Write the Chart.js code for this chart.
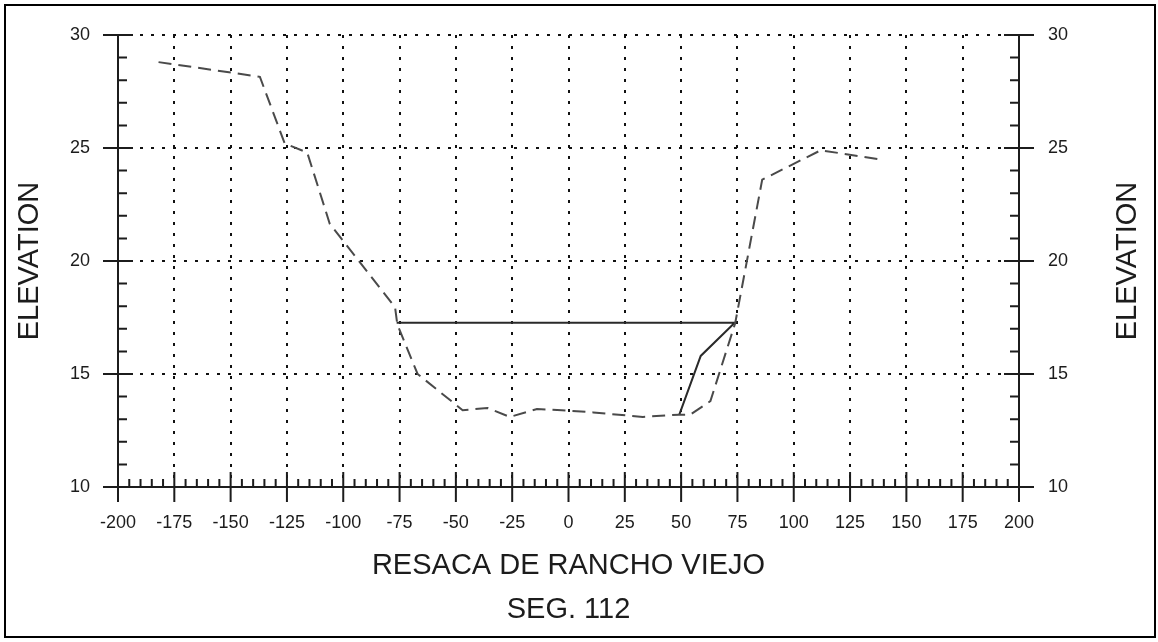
<!DOCTYPE html>
<html>
<head>
<meta charset="utf-8">
<title>Resaca de Rancho Viejo - Seg. 112</title>
<script src="https://cdn.jsdelivr.net/npm/chart.js@4"></script>
<style>
	html, body { margin: 0; padding: 0; background: #fff; }
	#wrap { position: relative; width: 1158px; height: 642px; }
</style>
</head>
<body>
<div id="wrap"><canvas id="chart" width="1158" height="642"></canvas></div>
<script>
	// tick labels
	const xTicks = [-200, -175, -150, -125, -100, -75, -50, -25, 0, 25, 50, 75, 100, 125, 150, 175, 200];
	const yTicks = [10, 15, 20, 25, 30];

	// ground profile (dashed)
	const groundX = [-182, -137, -126, -116, -106, -77, -76, -67, -47, -36, -26, -14, -3, 11, 33, 49, 54, 63, 74, 86, 112, 138];
	const groundY = [28.8, 28.15, 25.2, 24.8, 21.65, 17.95, 17.2, 15.0, 13.4, 13.5, 13.1, 13.45, 13.4, 13.3, 13.1, 13.2, 13.2, 13.8, 17.25, 23.6, 24.9, 24.5];

	// water surface (solid)
	const waterX = [-76.3, 73.8, 58.7, 49.2];
	const waterY = [17.27, 17.27, 15.8, 13.2];

	const titleLines = ['RESACA DE RANCHO VIEJO', 'SEG. 112'];
	const axisTitle = 'ELEVATION';

	const fontFamily = '"Liberation Sans", Arial, Helvetica, sans-serif';
	const ink = '#1c1c1c';

	function toPoints(xs, ys) {
		return xs.map((x, i) => ({ x: x, y: ys[i] }));
	}

	// solid axes, crossing major ticks, minor ticks and the right axis title
	const framePlugin = {
		id: 'frame',
		afterDraw(chart) {
			const ctx = chart.ctx;
			const x = chart.scales.x;
			const y = chart.scales.y;
			const L = x.getPixelForValue(-200);
			const R = x.getPixelForValue(200);
			const T = y.getPixelForValue(30);
			const B = y.getPixelForValue(10);

			ctx.save();
			ctx.strokeStyle = ink;
			ctx.lineWidth = 2;
			ctx.lineCap = 'butt';
			ctx.beginPath();
			// left + right axis
			ctx.moveTo(L, T); ctx.lineTo(L, B);
			ctx.moveTo(R, T); ctx.lineTo(R, B);
			// bottom axis
			ctx.moveTo(L - 15, B); ctx.lineTo(R + 15, B);

			// major ticks
			xTicks.forEach(v => {
				const px = x.getPixelForValue(v);
				ctx.moveTo(px, B - 15); ctx.lineTo(px, B + 15);
			});
			yTicks.forEach(v => {
				const py = y.getPixelForValue(v);
				ctx.moveTo(L - 15, py); ctx.lineTo(L + 15, py);
				ctx.moveTo(R - 15, py); ctx.lineTo(R + 15, py);
			});

			// minor ticks
			for (let v = -200; v <= 200; v += 5) {
				const px = x.getPixelForValue(v);
				ctx.moveTo(px, B - 8); ctx.lineTo(px, B);
			}
			for (let v = 10; v <= 30; v += 1) {
				const py = y.getPixelForValue(v);
				ctx.moveTo(L, py); ctx.lineTo(L + 9, py);
				ctx.moveTo(R - 9, py); ctx.lineTo(R, py);
			}
			ctx.stroke();

			// right title reads bottom to top like the left one
			ctx.fillStyle = ink;
			ctx.font = '29px ' + fontFamily;
			ctx.textAlign = 'center';
			ctx.textBaseline = 'middle';
			ctx.translate(1128, (T + B) / 2);
			ctx.rotate(-Math.PI / 2);
			ctx.fillText(axisTitle, 0, 0);
			ctx.restore();

			// outer frame
			ctx.save();
			ctx.strokeStyle = '#000';
			ctx.lineWidth = 2;
			ctx.strokeRect(5, 5, 1150, 632);
			ctx.restore();
		}
	};

	const gridColor = c => (c.tick && (c.tick.value === -200 || c.tick.value === 200 || c.tick.value === 10)) ? 'rgba(0,0,0,0)' : '#111';

	// keep the y tick labels from pushing the plot area down
	const noVPad = s => { s.paddingTop = 0; s.paddingBottom = 0; };

	let ctx = document.getElementById('chart').getContext('2d');
	let chart = new Chart(ctx, {
		type: 'scatter',
		data: {
			datasets: [{
				label: 'ground',
				data: toPoints(groundX, groundY),
				showLine: true,
				borderColor: '#4a4a4a',
				borderWidth: 2,
				borderDash: [13, 7],
				pointRadius: 0,
				fill: false,
				tension: 0
			}, {
				label: 'water',
				data: toPoints(waterX, waterY),
				showLine: true,
				borderColor: '#2a2a2a',
				borderWidth: 2,
				pointRadius: 0,
				fill: false,
				tension: 0
			}]
		},
		options: {
			responsive: false,
			animation: false,
			layout: { padding: { top: 35, left: 0, right: 0, bottom: 0 } },
			plugins: {
				legend: { display: false },
				tooltip: { enabled: false }
			},
			scales: {
				x: {
					type: 'linear',
					min: -200,
					max: 200,
					afterBuildTicks: s => { s.ticks = xTicks.map(v => ({ value: v })); },
					afterFit: s => { s.height = 155; },
					ticks: {
						autoSkip: false,
						maxRotation: 0,
						padding: 25,
						color: ink,
						font: { family: fontFamily, size: 18 },
						callback: v => String(v)
					},
					grid: { drawTicks: false, color: gridColor, lineWidth: 2 },
					border: { display: false, dash: [3, 8] },
					title: {
						display: true,
						text: titleLines,
						color: ink,
						font: { family: fontFamily, size: 29, lineHeight: 1.52 },
						padding: { top: 0, bottom: 10 }
					}
				},
				y: {
					type: 'linear',
					position: 'left',
					min: 10,
					max: 30,
					afterBuildTicks: s => { s.ticks = yTicks.map(v => ({ value: v })); },
					afterFit: s => { s.width = 118; noVPad(s); },
					ticks: {
						padding: 28,
						color: ink,
						font: { family: fontFamily, size: 18 },
						callback: v => String(v)
					},
					grid: { drawTicks: false, color: gridColor, lineWidth: 2 },
					border: { display: false, dash: [3, 8] },
					title: {
						display: true,
						text: axisTitle,
						color: ink,
						font: { family: fontFamily, size: 29, lineHeight: 1.2 },
						padding: { top: 12.6, bottom: 0 }
					}
				},
				y2: {
					type: 'linear',
					position: 'right',
					min: 10,
					max: 30,
					afterBuildTicks: s => { s.ticks = yTicks.map(v => ({ value: v })); },
					afterFit: s => { s.width = 139; noVPad(s); },
					ticks: {
						padding: 29,
						color: ink,
						font: { family: fontFamily, size: 18 },
						callback: v => String(v)
					},
					grid: { display: false, drawTicks: false },
					border: { display: false }
				}
			}
		},
		plugins: [framePlugin]
	});
</script>
</body>
</html>
